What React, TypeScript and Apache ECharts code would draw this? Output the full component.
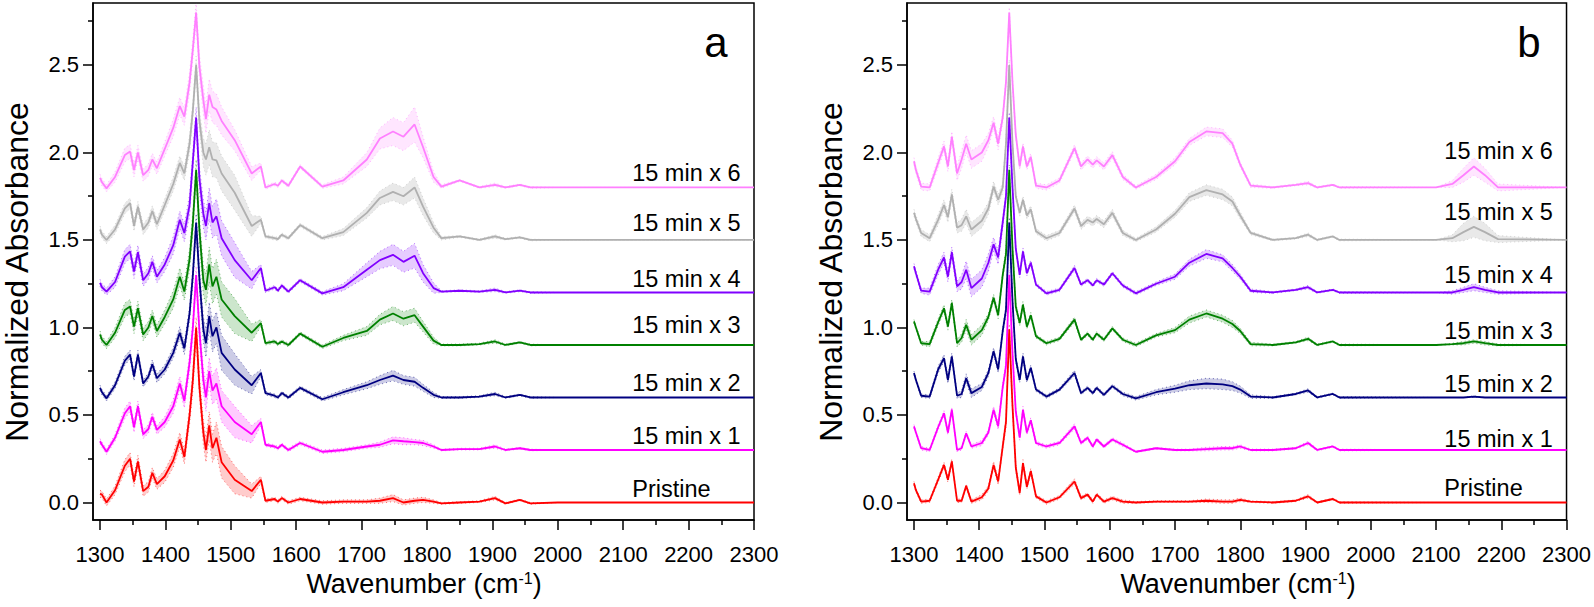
import React, { useEffect, useRef } from "react";
import * as echarts from "echarts";

// ---------- tick values ----------
const X_MAJOR = [1300, 1400, 1500, 1600, 1700, 1800, 1900, 2000, 2100, 2200, 2300];
const X_MINOR = [1350, 1450, 1550, 1650, 1750, 1850, 1950, 2050, 2150, 2250];
const Y_MAJOR = [0, 0.5, 1, 1.5, 2, 2.5];
const Y_MINOR = [0.25, 0.75, 1.25, 1.75, 2.25, 2.75];

// ---------- series names / colours ----------
const NAMES = ["Pristine", "15 min x 1", "15 min x 2", "15 min x 3", "15 min x 4", "15 min x 5", "15 min x 6"];
const COLORS = ["#ff0000", "#ff00ff", "#000080", "#008000", "#8000ff", "#b0b0b0", "#ff80ff"];

// ---------- panel a ----------
const WN_A = [1300, 1303, 1310, 1323, 1338, 1346, 1352, 1358, 1366, 1374,
  1380, 1387, 1399, 1412, 1422, 1429, 1437, 1442, 1447, 1452,
  1458, 1462, 1467, 1472, 1478, 1486, 1506, 1532, 1546, 1553,
  1567, 1572, 1578, 1588, 1606, 1640, 1672, 1708, 1728, 1748,
  1764, 1781, 1794, 1810, 1822, 1850, 1880, 1904, 1920, 1942,
  1958, 2000, 2300];

const A_PRISTINE = [0.05, 0.045, 0.0, 0.07, 0.21, 0.25, 0.12, 0.235, 0.065, 0.09,
  0.17, 0.105, 0.15, 0.24, 0.36, 0.26, 0.5, 0.7, 1.0, 0.66,
  0.4, 0.3, 0.44, 0.31, 0.37, 0.23, 0.13, 0.065, 0.13, 0.01,
  0.02, 0.005, 0.025, 0.0, 0.02, 0.0, 0.005, 0.005, 0.01, 0.025,
  0.0, 0.01, 0.015, 0.005, -0.005, 0.0, 0.005, 0.025, -0.005, 0.015,
  -0.005, 0.0, 0.0];
const A_X1 = [0.35, 0.33, 0.29, 0.37, 0.51, 0.55, 0.43, 0.55, 0.39, 0.42,
  0.49, 0.415, 0.46, 0.55, 0.68, 0.58, 0.8, 1.0, 1.3, 0.98,
  0.7, 0.6, 0.75, 0.64, 0.68, 0.55, 0.46, 0.39, 0.46, 0.33,
  0.32, 0.31, 0.33, 0.3, 0.34, 0.29, 0.3, 0.32, 0.33, 0.355,
  0.35, 0.345, 0.34, 0.32, 0.3, 0.305, 0.305, 0.32, 0.3, 0.31,
  0.3, 0.3, 0.3];
const A_X2 = [0.655, 0.63, 0.595, 0.67, 0.81, 0.845, 0.72, 0.845, 0.68, 0.72,
  0.79, 0.71, 0.76, 0.855, 0.97, 0.88, 1.08, 1.3, 1.6, 1.28,
  0.99, 0.91, 1.065, 0.95, 1.0, 0.855, 0.76, 0.67, 0.74, 0.625,
  0.61, 0.6, 0.625, 0.6, 0.655, 0.59, 0.63, 0.67, 0.7, 0.725,
  0.7, 0.69, 0.655, 0.615, 0.6, 0.6, 0.605, 0.62, 0.6, 0.615,
  0.6, 0.6, 0.6];
const A_X3 = [0.96, 0.93, 0.9, 0.97, 1.1, 1.12, 1.005, 1.11, 0.96, 1.0,
  1.065, 0.98, 1.06, 1.16, 1.29, 1.205, 1.39, 1.6, 1.9, 1.56,
  1.27, 1.215, 1.36, 1.235, 1.29, 1.16, 1.065, 0.97, 1.025, 0.91,
  0.92, 0.905, 0.92, 0.9, 0.965, 0.89, 0.94, 0.98, 1.045, 1.08,
  1.05, 1.07, 1.005, 0.925, 0.9, 0.9, 0.905, 0.92, 0.9, 0.915,
  0.9, 0.9, 0.9];
const A_X4 = [1.255, 1.23, 1.205, 1.26, 1.405, 1.435, 1.32, 1.43, 1.27, 1.31,
  1.375, 1.29, 1.36, 1.47, 1.615, 1.54, 1.7, 1.95, 2.2, 1.85,
  1.65, 1.58, 1.71, 1.6, 1.635, 1.51, 1.385, 1.27, 1.34, 1.21,
  1.23, 1.21, 1.24, 1.205, 1.27, 1.195, 1.23, 1.33, 1.385, 1.415,
  1.375, 1.41, 1.31, 1.225, 1.205, 1.21, 1.205, 1.215, 1.2, 1.21,
  1.2, 1.2, 1.2];
const A_X5 = [1.56, 1.53, 1.5, 1.56, 1.68, 1.71, 1.58, 1.69, 1.56, 1.6,
  1.665, 1.59, 1.7, 1.82, 1.94, 1.88, 2.05, 2.24, 2.5, 2.18,
  2.0, 1.96, 2.03, 1.96, 1.955, 1.88, 1.77, 1.58, 1.615, 1.52,
  1.51, 1.505, 1.53, 1.51, 1.585, 1.51, 1.545, 1.655, 1.74, 1.775,
  1.75, 1.8, 1.69, 1.57, 1.51, 1.52, 1.5, 1.52, 1.505, 1.515,
  1.5, 1.5, 1.5];
const A_X6 = [1.855, 1.83, 1.795, 1.86, 1.985, 2.005, 1.9, 2.0, 1.87, 1.9,
  1.96, 1.91, 2.02, 2.14, 2.265, 2.205, 2.4, 2.59, 2.8, 2.49,
  2.3, 2.19, 2.33, 2.26, 2.245, 2.18, 2.07, 1.88, 1.92, 1.8,
  1.82, 1.81, 1.84, 1.81, 1.92, 1.805, 1.84, 1.96, 2.08, 2.12,
  2.09, 2.16, 2.03, 1.86, 1.805, 1.84, 1.8, 1.815, 1.8, 1.815,
  1.8, 1.8, 1.8];

// half-widths of the shaded spread bands, panel a
const BAND_A_PRISTINE = [.02, .02, .02, .025, .035, .035, .03, .035, .03, .03,
  .03, .03, .035, .04, .04, .04, .05, .06, .06, .06,
  .07, .07, .08, .08, .09, .09, .08, .04, .02, .01,
  .01, .01, .01, .01, .01, .01, .01, .01, .015, .02,
  .015, .015, .015, .01, .005, .005, .005, .01, .005, .005,
  .005, 0, 0];
const BAND_A_X1 = [.015, .015, .015, .02, .03, .03, .03, .03, .025, .025,
  .025, .025, .03, .04, .04, .04, .05, .05, .05, .06,
  .07, .08, .08, .08, .09, .09, .09, .05, .02, .01,
  .01, .01, .01, .01, .01, .01, .01, .01, .015, .02,
  .02, .015, .015, .01, .005, .005, .005, .01, .005, .005,
  .005, 0, 0];
const BAND_A_X2 = [.015, .015, .015, .02, .025, .025, .025, .025, .02, .02,
  .025, .025, .025, .03, .035, .035, .04, .05, .05, .06,
  .07, .08, .08, .09, .09, .1, .09, .05, .02, .01,
  .01, .01, .01, .01, .01, .01, .015, .02, .025, .03,
  .025, .025, .02, .015, .005, .005, .005, .01, .005, .005,
  .005, 0, 0];
const BAND_A_X3 = [.02, .02, .02, .03, .04, .04, .04, .04, .035, .035,
  .035, .035, .04, .05, .05, .05, .06, .06, .06, .07,
  .08, .09, .1, .1, .1, .1, .1, .05, .02, .01,
  .01, .01, .01, .01, .01, .01, .015, .025, .03, .04,
  .04, .04, .03, .02, .005, .005, .005, .01, .005, .005,
  .005, 0, 0];
const BAND_A_X4 = [.02, .02, .02, .03, .04, .04, .04, .04, .035, .035,
  .035, .035, .04, .05, .05, .05, .06, .06, .06, .07,
  .08, .08, .09, .09, .1, .1, .1, .05, .02, .01,
  .01, .01, .01, .01, .01, .01, .02, .04, .05, .06,
  .06, .07, .05, .03, .005, .005, .005, .01, .005, .005,
  .005, 0, 0];
const BAND_A_X5 = [.02, .02, .02, .025, .03, .03, .03, .03, .03, .03,
  .03, .03, .035, .04, .04, .04, .05, .05, .05, .06,
  .08, .09, .1, .1, .1, .1, .1, .06, .02, .01,
  .01, .01, .01, .01, .01, .01, .02, .03, .04, .05,
  .05, .06, .05, .03, .01, .005, .005, .01, .005, .005,
  .005, 0, 0];
const BAND_A_X6 = [.02, .02, .02, .03, .04, .04, .04, .04, .035, .035,
  .035, .035, .04, .05, .05, .05, .06, .06, .06, .07,
  .08, .08, .09, .09, .09, .08, .06, .04, .02, .01,
  .01, .01, .01, .01, .01, .01, .02, .04, .06, .08,
  .08, .1, .06, .03, .01, .005, .005, .01, .005, .005,
  .005, 0, 0];

const LABEL_X_A = 2113;
const LABEL_Y_A = [0.078, 0.38, 0.685, 1.015, 1.275, 1.595, 1.885];

// ---------- panel b ----------
const WN_B = [1300, 1303, 1311, 1324, 1337, 1346, 1352, 1358, 1366, 1373,
  1380, 1388, 1404, 1414, 1422, 1429, 1436, 1441, 1446, 1451,
  1456, 1462, 1467, 1473, 1479, 1487, 1503, 1523, 1546, 1556,
  1566, 1574, 1580, 1591, 1604, 1620, 1640, 1671, 1700, 1722,
  1748, 1773, 1788, 1800, 1816, 1850, 1885, 1904, 1918, 1942,
  1952, 2100, 2125, 2142, 2158, 2175, 2195, 2300];

const B_PRISTINE = [0.11, 0.07, 0.005, 0.01, 0.13, 0.215, 0.13, 0.235, 0.01, 0.01,
  0.095, 0.005, 0.03, 0.08, 0.215, 0.12, 0.32, 0.46, 0.99, 0.55,
  0.2, 0.055, 0.225, 0.09, 0.18, 0.035, 0.0, 0.03, 0.12, 0.025,
  0.045, 0.005, 0.045, 0.005, 0.025, 0.005, 0.0, 0.005, 0.005, 0.005,
  0.01, 0.005, 0.005, 0.015, 0.005, 0.0, 0.01, 0.035, 0.0, 0.02,
  0.0, 0.0, 0.0, 0.0, 0.0, 0.0, 0.0, 0.0];
const B_X1 = [0.435, 0.4, 0.31, 0.3, 0.43, 0.51, 0.4, 0.53, 0.3, 0.31,
  0.395, 0.32, 0.34, 0.4, 0.53, 0.435, 0.66, 0.78, 1.3, 0.85,
  0.52, 0.37, 0.53, 0.4, 0.47, 0.34, 0.32, 0.34, 0.435, 0.34,
  0.37, 0.32, 0.36, 0.32, 0.36, 0.33, 0.29, 0.31, 0.3, 0.3,
  0.305, 0.31, 0.31, 0.32, 0.3, 0.3, 0.31, 0.34, 0.3, 0.32,
  0.3, 0.3, 0.3, 0.3, 0.3, 0.3, 0.3, 0.3];
const B_X2 = [0.74, 0.7, 0.61, 0.605, 0.76, 0.825, 0.7, 0.835, 0.61, 0.62,
  0.71, 0.625, 0.66, 0.74, 0.865, 0.76, 0.98, 1.1, 1.6, 1.15,
  0.82, 0.7, 0.835, 0.7, 0.77, 0.645, 0.605, 0.645, 0.74, 0.625,
  0.655, 0.625, 0.655, 0.615, 0.665, 0.62, 0.595, 0.63, 0.65, 0.67,
  0.68, 0.675, 0.665, 0.645, 0.605, 0.6, 0.62, 0.64, 0.6, 0.62,
  0.6, 0.6, 0.6, 0.6, 0.605, 0.6, 0.6, 0.6];
const B_X3 = [1.035, 1.0, 0.91, 0.905, 1.03, 1.11, 1.005, 1.14, 0.91, 0.94,
  1.015, 0.93, 0.985, 1.06, 1.17, 1.07, 1.3, 1.42, 1.9, 1.45,
  1.12, 1.025, 1.13, 1.005, 1.07, 0.95, 0.91, 0.935, 1.045, 0.93,
  0.965, 0.93, 0.965, 0.93, 0.995, 0.93, 0.9, 0.955, 0.985, 1.045,
  1.08, 1.05, 1.02, 0.98, 0.905, 0.9, 0.915, 0.935, 0.9, 0.92,
  0.9, 0.9, 0.905, 0.91, 0.92, 0.91, 0.9, 0.9];
const B_X4 = [1.35, 1.31, 1.21, 1.205, 1.33, 1.4, 1.29, 1.43, 1.235, 1.26,
  1.33, 1.225, 1.28, 1.37, 1.475, 1.4, 1.6, 1.75, 2.2, 1.8,
  1.45, 1.3, 1.435, 1.31, 1.37, 1.245, 1.195, 1.215, 1.34, 1.245,
  1.27, 1.24, 1.27, 1.245, 1.31, 1.24, 1.195, 1.25, 1.29, 1.37,
  1.42, 1.395, 1.34, 1.29, 1.21, 1.2, 1.215, 1.23, 1.2, 1.215,
  1.2, 1.2, 1.2, 1.215, 1.23, 1.215, 1.2, 1.2];
const B_X5 = [1.655, 1.62, 1.54, 1.51, 1.615, 1.7, 1.63, 1.76, 1.57, 1.585,
  1.635, 1.56, 1.61, 1.68, 1.805, 1.73, 1.8, 2.05, 2.5, 2.05,
  1.75, 1.655, 1.73, 1.64, 1.675, 1.55, 1.51, 1.54, 1.68, 1.58,
  1.615, 1.6, 1.62, 1.59, 1.655, 1.54, 1.5, 1.56, 1.65, 1.745,
  1.785, 1.76, 1.72, 1.64, 1.54, 1.5, 1.51, 1.53, 1.5, 1.52,
  1.5, 1.5, 1.51, 1.545, 1.575, 1.545, 1.505, 1.5];
const B_X6 = [1.95, 1.9, 1.805, 1.8, 1.94, 2.035, 1.92, 2.09, 1.88, 1.96,
  2.05, 1.96, 2.0, 2.07, 2.17, 2.05, 2.2, 2.4, 2.8, 2.4,
  2.1, 1.92, 2.035, 1.92, 1.975, 1.81, 1.8, 1.84, 2.025, 1.92,
  1.96, 1.93, 1.955, 1.92, 1.985, 1.86, 1.8, 1.86, 1.95, 2.06,
  2.12, 2.11, 2.05, 1.93, 1.81, 1.8, 1.815, 1.825, 1.8, 1.815,
  1.8, 1.8, 1.82, 1.87, 1.92, 1.87, 1.8, 1.8];

const BAND_B_PRISTINE = [.01, .01, .01, .01, .015, .015, .015, .015, .01, .01,
  .01, .01, .015, .015, .02, .02, .02, .03, .03, .03,
  .02, .015, .02, .015, .015, .01, .01, .01, .015, .01,
  .01, .01, .01, .01, .01, .01, .005, .005, .005, .005,
  .01, .01, .01, .01, .005, .005, .005, .01, .005, .005,
  .005, 0, 0, 0, 0, 0, 0, 0];
const BAND_B_X1 = [.01, .01, .01, .01, .015, .015, .015, .015, .01, .01,
  .01, .01, .015, .015, .02, .02, .02, .03, .03, .03,
  .02, .015, .02, .015, .015, .01, .01, .01, .015, .01,
  .01, .01, .01, .01, .01, .01, .005, .005, .005, .005,
  .01, .01, .01, .01, .005, .005, .005, .01, .005, .005,
  .005, 0, 0, 0, 0, 0, 0, 0];
const BAND_B_X2 = [.01, .01, .01, .01, .02, .02, .02, .02, .015, .02,
  .025, .025, .02, .02, .02, .02, .02, .03, .03, .03,
  .02, .015, .02, .015, .015, .01, .01, .01, .015, .01,
  .01, .01, .01, .01, .01, .01, .01, .015, .02, .025,
  .03, .03, .025, .02, .01, .005, .005, .01, .005, .005,
  .005, 0, 0, 0, .005, 0, 0, 0];
const BAND_B_X3 = [.01, .01, .01, .015, .02, .02, .02, .02, .02, .025,
  .03, .03, .03, .02, .02, .02, .02, .03, .03, .03,
  .02, .015, .02, .015, .015, .01, .01, .01, .015, .01,
  .01, .01, .01, .01, .01, .01, .01, .01, .015, .02,
  .02, .02, .02, .015, .01, .005, .005, .01, .005, .005,
  .005, 0, .005, .01, .01, .01, .005, 0];
const BAND_B_X4 = [.015, .015, .015, .02, .03, .03, .03, .03, .03, .04,
  .05, .05, .05, .05, .04, .04, .03, .03, .03, .03,
  .02, .015, .02, .015, .015, .01, .01, .01, .015, .01,
  .01, .01, .01, .01, .01, .01, .01, .01, .015, .02,
  .025, .02, .02, .015, .01, .005, .005, .01, .005, .005,
  .005, 0, .01, .015, .02, .015, .01, 0];
const BAND_B_X5 = [.02, .02, .02, .02, .03, .03, .03, .03, .03, .035,
  .04, .04, .04, .035, .03, .03, .03, .03, .03, .03,
  .02, .02, .02, .02, .02, .015, .015, .015, .02, .02,
  .02, .02, .02, .02, .02, .015, .01, .015, .02, .025,
  .03, .03, .025, .02, .01, .005, .005, .01, .005, .005,
  .005, 0, .02, .05, .06, .05, .02, 0];
const BAND_B_X6 = [.02, .02, .02, .02, .03, .03, .03, .03, .04, .05,
  .05, .05, .05, .04, .035, .035, .03, .03, .03, .03,
  .02, .02, .02, .02, .02, .015, .015, .015, .02, .02,
  .02, .02, .02, .02, .02, .015, .01, .015, .02, .02,
  .025, .025, .02, .015, .01, .005, .005, .01, .005, .005,
  .005, 0, .02, .04, .05, .04, .02, 0];

const LABEL_X_B = 2112;
const LABEL_Y_B = [0.084, 0.36, 0.675, 0.98, 1.30, 1.66, 2.01];

// ---------- layout ----------
const FONT = '"Liberation Sans", Arial, Helvetica, sans-serif';
const INK = "#000";
const X_MIN = 1289.3;
const X_MAX = 2300;
const Y_MIN = -0.1;
const Y_MAX = 2.854;

function panelAxes(p: number) {
  const common = { gridIndex: p, type: "value" as const, splitLine: { show: false } };
  const xAxes = [
    {
      ...common, min: X_MIN, max: X_MAX, position: "bottom",
      axisLine: { show: true, onZero: false, lineStyle: { color: INK, width: 1.5 } },
      axisTick: { show: true, inside: false, length: 10, customValues: X_MAJOR, lineStyle: { color: INK, width: 1.5 } },
      axisLabel: {
        show: true, customValues: X_MAJOR, margin: 23, fontSize: 22, fontFamily: FONT, color: INK,
        formatter: (v: number) => String(Math.round(v)),
      },
    },
    {
      ...common, min: X_MIN, max: X_MAX, position: "bottom",
      axisLine: { show: false, onZero: false },
      axisTick: { show: true, inside: false, length: 5, customValues: X_MINOR, lineStyle: { color: INK, width: 1.5 } },
      axisLabel: { show: false },
    },
  ];
  const yAxes = [
    {
      ...common, min: Y_MIN, max: Y_MAX, position: "left",
      axisLine: { show: true, onZero: false, lineStyle: { color: INK, width: 1.5 } },
      axisTick: { show: true, inside: false, length: 10, customValues: Y_MAJOR, lineStyle: { color: INK, width: 1.5 } },
      axisLabel: {
        show: true, customValues: Y_MAJOR, margin: 14, fontSize: 22, fontFamily: FONT, color: INK,
        formatter: (v: number) => v.toFixed(1),
      },
    },
    {
      ...common, min: Y_MIN, max: Y_MAX, position: "left",
      axisLine: { show: false, onZero: false },
      axisTick: { show: true, inside: false, length: 5, customValues: Y_MINOR, lineStyle: { color: INK, width: 1.5 } },
      axisLabel: { show: false },
    },
  ];
  return { xAxes, yAxes };
}

function panelSeries(p: number, wn: number[], vals: number[][], bands: number[][], labelX: number, labelY: number[]) {
  const xi = p * 2;
  const yi = p * 2;
  const out: any[] = [];
  // spread bands (custom polygons through the axes' coord)
  for (let i = vals.length - 1; i >= 0; i--) {
    const color = COLORS[i];
    const v = vals[i];
    const b = bands[i];
    out.push({
      type: "custom", xAxisIndex: xi, yAxisIndex: yi, silent: true, clip: true, z: 1,
      data: [[wn[0], v[0]]],
      renderItem: (_params: any, api: any) => {
        const up = wn.map((x, k) => api.coord([x, v[k] + b[k]]));
        const lo = wn.map((x, k) => api.coord([x, v[k] - b[k]]));
        const poly = up.concat(lo.slice().reverse());
        const edgeStyle = { stroke: color, fill: "none", lineWidth: 1, lineDash: [1, 3], opacity: 0.55 };
        return {
          type: "group",
          children: [
            { type: "polygon", shape: { points: poly }, style: { fill: color, opacity: i === 5 ? 0.28 : 0.2 } },
            { type: "polyline", shape: { points: up }, style: edgeStyle },
            { type: "polyline", shape: { points: lo }, style: edgeStyle },
          ],
        };
      },
    });
  }
  for (let i = vals.length - 1; i >= 0; i--) {
    out.push({
      type: "line", name: NAMES[i], xAxisIndex: xi, yAxisIndex: yi, silent: true, symbol: "none", z: 3,
      data: wn.map((x, k) => [x, vals[i][k]]),
      lineStyle: { width: 1.8, color: COLORS[i] },
    });
  }
  out.push({
    type: "scatter", xAxisIndex: xi, yAxisIndex: yi, silent: true, symbol: "rect", symbolSize: 1, z: 5,
    itemStyle: { color: "#ffffff", opacity: 1 },
    data: NAMES.map((n, i) => ({ name: n, value: [labelX, labelY[i]] })),
    label: {
      show: true, position: "right", distance: 0, formatter: "{b}", opacity: 1,
      fontSize: 23.5, fontFamily: FONT, color: INK, textBorderWidth: 0,
    },
  });
  return out;
}

export default function App() {
  const ref = useRef<HTMLDivElement>(null);
  useEffect(() => {
    if (!ref.current) return;
    const chart = echarts.init(ref.current, undefined, { renderer: "svg" });
    const a = panelAxes(0);
    const b = panelAxes(1);
    const valsA = [A_PRISTINE, A_X1, A_X2, A_X3, A_X4, A_X5, A_X6];
    const bandsA = [BAND_A_PRISTINE, BAND_A_X1, BAND_A_X2, BAND_A_X3, BAND_A_X4, BAND_A_X5, BAND_A_X6];
    const valsB = [B_PRISTINE, B_X1, B_X2, B_X3, B_X4, B_X5, B_X6];
    const bandsB = [BAND_B_PRISTINE, BAND_B_X1, BAND_B_X2, BAND_B_X3, BAND_B_X4, BAND_B_X5, BAND_B_X6];

    const xTitle = (cx: number) => ({
      type: "text", x: cx, y: 584, silent: true,
      style: {
        text: "{a|Wavenumber (cm}{s|-1}{a|)}",
        align: "center", verticalAlign: "middle", fill: INK,
        rich: {
          a: { fontSize: 27, fontFamily: FONT, fill: INK },
          s: { fontSize: 16, fontFamily: FONT, fill: INK, verticalAlign: "top" },
        },
      },
    });
    const yTitle = (cx: number) => ({
      type: "text", x: cx, y: 272, rotation: Math.PI / 2, silent: true,
      style: { text: "Normalized Absorbance", fontSize: 32, fontFamily: FONT, fill: INK, align: "center", verticalAlign: "middle" },
    });
    const letter = (t: string, cx: number) => ({
      type: "text", x: cx, y: 42, silent: true,
      style: { text: t, fontSize: 42, fontFamily: FONT, fill: INK, align: "center", verticalAlign: "middle" },
    });

    chart.setOption({
      animation: false,
      backgroundColor: "#fff",
      grid: [
        { left: 93, top: 3, width: 661, height: 517, show: true, borderColor: INK, borderWidth: 1.5, backgroundColor: "transparent", containLabel: false },
        { left: 907, top: 3, width: 661, height: 517, show: true, borderColor: INK, borderWidth: 1.5, backgroundColor: "transparent", containLabel: false },
      ],
      xAxis: [...a.xAxes, ...b.xAxes],
      yAxis: [...a.yAxes, ...b.yAxes],
      series: [
        ...panelSeries(0, WN_A, valsA, bandsA, LABEL_X_A, LABEL_Y_A),
        ...panelSeries(1, WN_B, valsB, bandsB, LABEL_X_B, LABEL_Y_B),
      ],
      graphic: [yTitle(17), yTitle(831), xTitle(424), xTitle(1238), letter("a", 716), letter("b", 1529)],
    });
    return () => chart.dispose();
  }, []);
  return <div ref={ref} style={{ position: "fixed", left: 0, top: 0, width: 1594, height: 607 }} />;
}
